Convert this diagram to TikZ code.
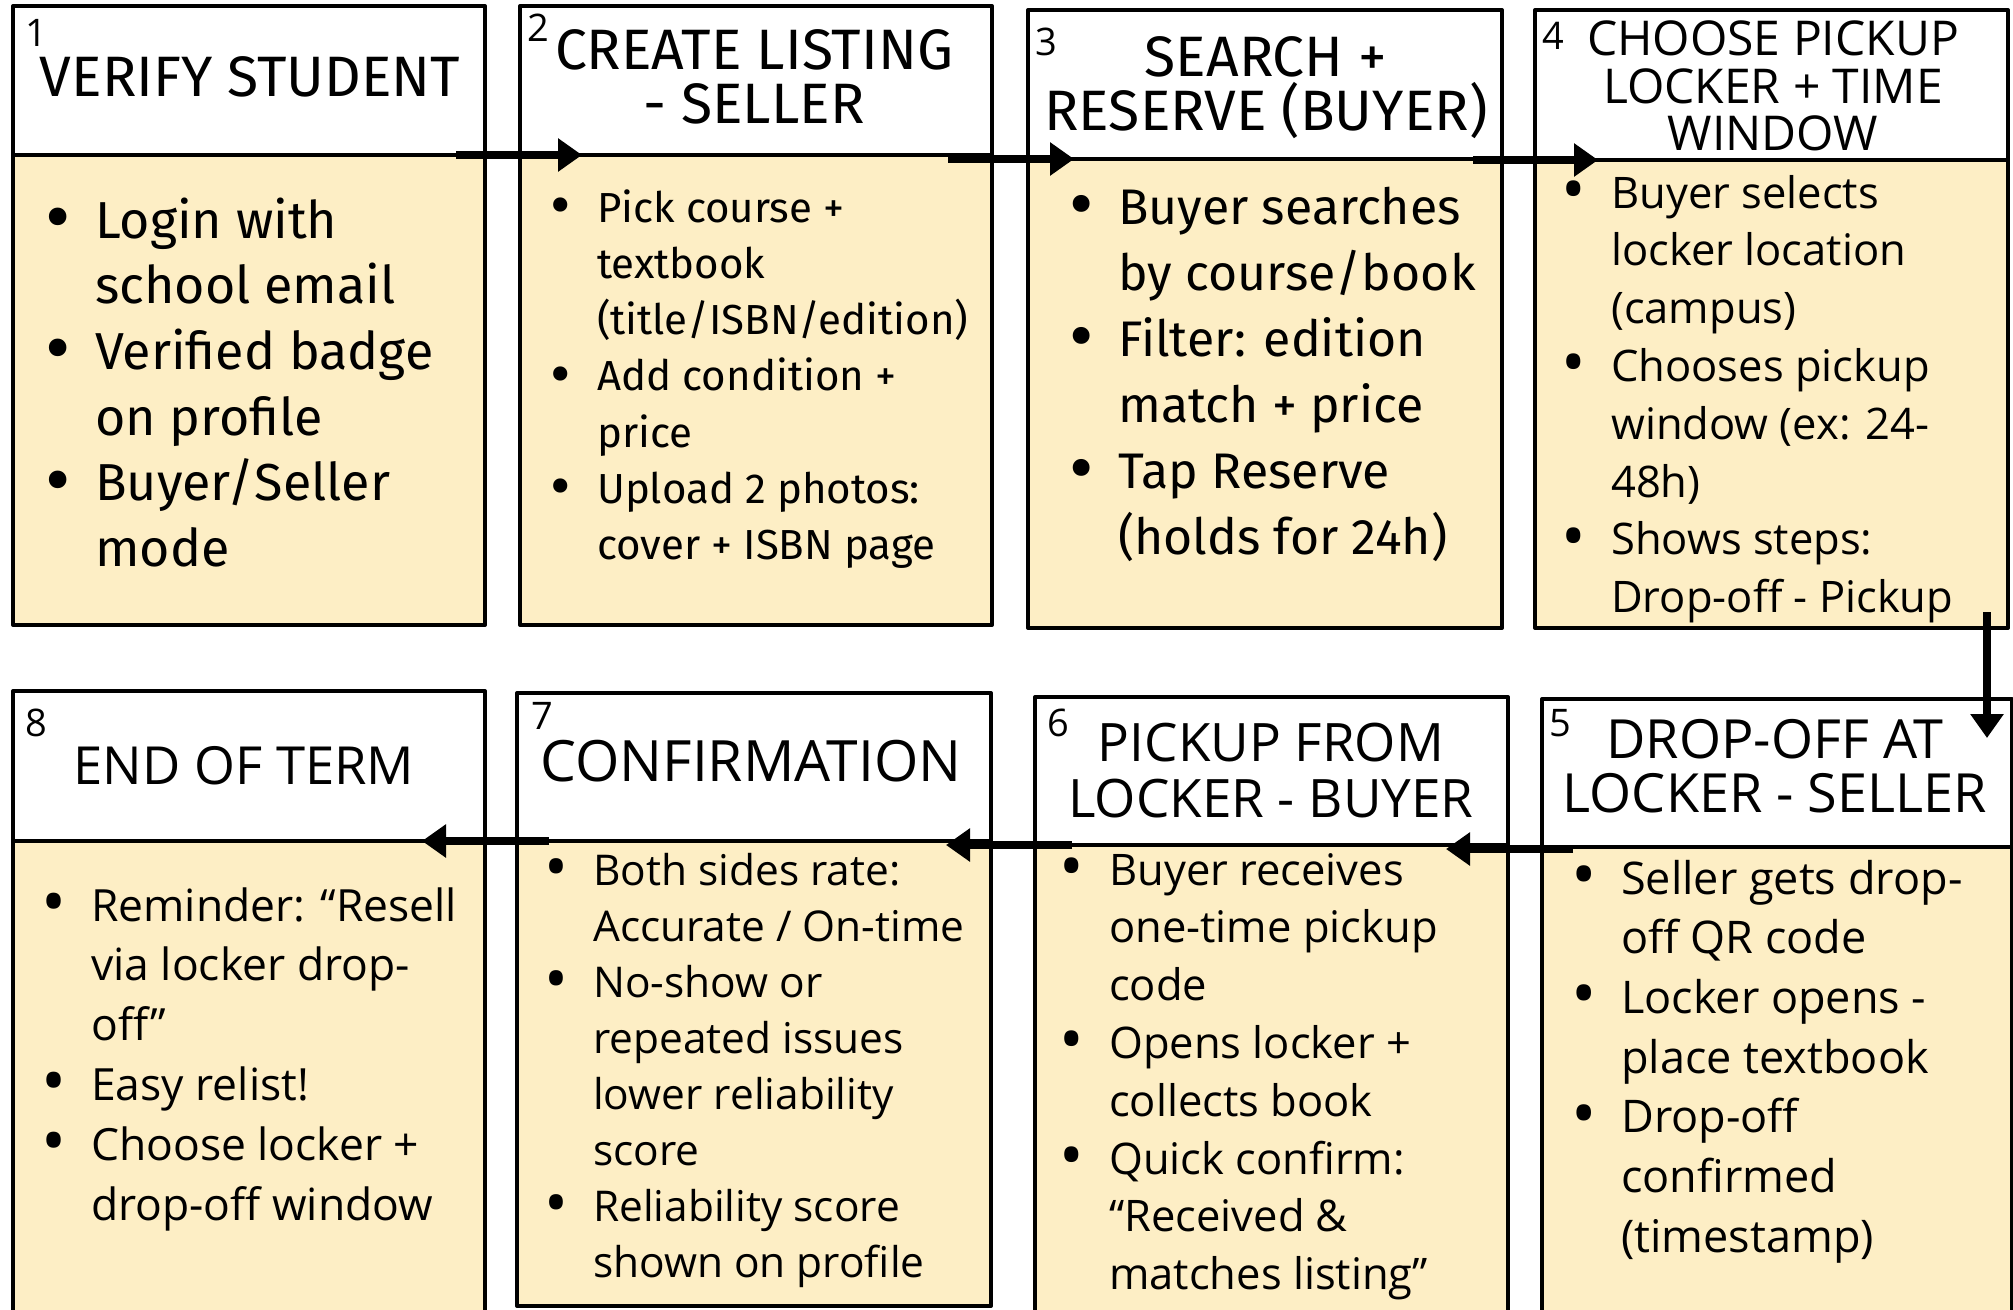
\documentclass[tikz,border=0pt]{standalone}
\usepackage{fontspec}
\setmainfont{Open Sans}
\newfontfamily\plex{Fira Sans}
\usetikzlibrary{arrows.meta}
\definecolor{boxfill}{RGB}{253,238,197}
\newcommand{\bi}{\llap{\makebox[74pt][c]{\raisebox{-0.1em}{\scalebox{1.5}{\textbullet}}}}}
\newcommand{\lst}[3]{\fontsize{#1}{#2}\selectfont\begin{tabular}[t]{@{}l@{}}#3\end{tabular}}
\newcommand{\fs}[2]{\fontsize{#1}{#2}\selectfont}
\tikzset{
  frame/.style={draw=black, line width=4pt, line join=round},
  flow/.style={line width=8pt, -{Triangle[length=24pt,width=32pt]}},
  num/.style={font=\fontsize{38}{38}\selectfont, inner sep=0},
  title/.style={inner sep=0, align=center},
  list/.style={inner sep=0, anchor=base west},
}
\begin{document}
\begin{tikzpicture}[x=1pt,y=-1pt]
\clip (0,0) rectangle (2013,1309);
\fill[white] (0,0) rectangle (2013,1309);
% ---------- boxes, top row ----------
\draw[frame, fill=white]   (13,6) rectangle (485,155);
\draw[frame, fill=boxfill] (13,155) rectangle (485,625);
\draw[frame, fill=white]   (520,6) rectangle (992,155);
\draw[frame, fill=boxfill] (520,155) rectangle (992,625);
\draw[frame, fill=white]   (1028,10) rectangle (1502,159);
\draw[frame, fill=boxfill] (1028,159) rectangle (1502,628);
\draw[frame, fill=white]   (1535,10) rectangle (2008,160);
\draw[frame, fill=boxfill] (1535,160) rectangle (2008,628);
% ---------- boxes, bottom row ----------
\draw[frame, fill=white]   (13,691) rectangle (485,841);
\draw[frame, fill=boxfill] (13,841) rectangle (485,1330);
\draw[frame, fill=white]   (517,693) rectangle (991,841);
\draw[frame, fill=boxfill] (517,841) rectangle (991,1306);
\draw[frame, fill=white]   (1035,697) rectangle (1508,845);
\draw[frame, fill=boxfill] (1035,845) rectangle (1508,1330);
\draw[frame, fill=white]   (1542,699) rectangle (2012,847);
\draw[frame, fill=boxfill] (1542,847) rectangle (2012,1330);
% ---------- numbers ----------
\node[num] (n1) at (36,33) {1};
\node[num] (n2) at (538,28) {2};
\node[num] (n3) at (1046,42) {3};
\node[num] (n4) at (1553,36) {4};
\node[num] (n5) at (1560,723) {5};
\node[num] (n6) at (1058,723) {6};
\node[num] (n7) at (542,716) {7};
\node[num] (n8) at (36,723) {8};
% ---------- titles ----------
\node[title, font=\plex\fs{57}{54}] (t1) at (250,77) {VERIFY STUDENT};
\node[title, font=\plex\fs{57}{54}] (t2) at (754,77) {CREATE LISTING\\- SELLER};
\node[title, font=\plex\fs{57}{54}] (t3) at (1266,88) {SEARCH +\\RESERVE (BUYER)};
\node[title, font=\fs{48}{47.5}] (t4) at (1773,86) {CHOOSE PICKUP\\LOCKER + TIME\\WINDOW};
\node[title, font=\fs{54}{54}] (t5) at (1775,766) {DROP-OFF AT\\LOCKER - SELLER};
\node[title, font=\fs{53}{56}] (t6) at (1271,771) {PICKUP FROM\\LOCKER - BUYER};
\node[title, font=\fs{57}{56}] (t7) at (751,761) {CONFIRMATION};
\node[title, font=\fs{52.5}{56}] (t8) at (244,766) {END OF TERM};
% ---------- lists ----------
\node[list, font=\plex] (l1) at (95,238) {\lst{52}{65.7}{%
\bi Login with\\ school email\\ \bi Verified badge\\ on profile\\ \bi Buyer/Seller\\ mode}};
\node[list, font=\plex] (l2) at (597,222) {\lst{42}{56.3}{%
\bi Pick course +\\ textbook\\ (title/ISBN/edition)\\ \bi Add condition +\\ price\\ \bi Upload 2 photos:\\ cover + ISBN page}};
\node[list, font=\plex] (l3) at (1118,224) {\lst{50}{66}{%
\bi Buyer searches\\ by course/book\\ \bi Filter: edition\\ match + price\\ \bi Tap Reserve\\ (holds for 24h)}};
\node[list] (l4) at (1611,208) {\lst{43.5}{57.8}{%
\bi Buyer selects\\ locker location\\ (campus)\\ \bi Chooses pickup\\ window (ex: 24-\\ 48h)\\ \bi Shows steps:\\ Drop-off - Pickup}};
\node[list] (l5) at (1621,894) {\lst{45}{59.7}{%
\bi Seller gets drop-\\ off QR code\\ \bi Locker opens -\\ place textbook\\ \bi Drop-off\\ confirmed\\ (timestamp)}};
\node[list] (l6) at (1109,885) {\lst{43.5}{57.8}{%
\bi Buyer receives\\ one-time pickup\\ code\\ \bi Opens locker +\\ collects book\\ \bi Quick confirm:\\ “Received \&\\ matches listing”}};
\node[list] (l7) at (593,885) {\lst{42.4}{56.1}{%
\bi Both sides rate:\\ Accurate / On-time\\ \bi No-show or\\ repeated issues\\ lower reliability\\ score\\ \bi Reliability score\\ shown on profile}};
\node[list] (l8) at (91,921) {\lst{44.4}{59.8}{%
\bi Reminder: “Resell\\ via locker drop-\\ off”\\ \bi Easy relist!\\ \bi Choose locker +\\ drop-off window}};
% ---------- connectors ----------
\coordinate (a1s) at (456,155);  \coordinate (a1e) at (582,155);
\coordinate (a2s) at (948,159);  \coordinate (a2e) at (1074,159);
\coordinate (a3s) at (1473,160); \coordinate (a3e) at (1598,160);
\coordinate (a4s) at (1987,612); \coordinate (a4e) at (1987,738);
\coordinate (a5s) at (1573,849); \coordinate (a5e) at (1446,849);
\coordinate (a6s) at (1072,845); \coordinate (a6e) at (946,845);
\coordinate (a7s) at (549,841);  \coordinate (a7e) at (422,841);
\draw[flow] (a1s) -- (a1e);
\draw[flow] (a2s) -- (a2e);
\draw[flow] (a3s) -- (a3e);
\draw[flow] (a4s) -- (a4e);
\draw[flow] (a5s) -- (a5e);
\draw[flow] (a6s) -- (a6e);
\draw[flow] (a7s) -- (a7e);
\end{tikzpicture}
\end{document}
